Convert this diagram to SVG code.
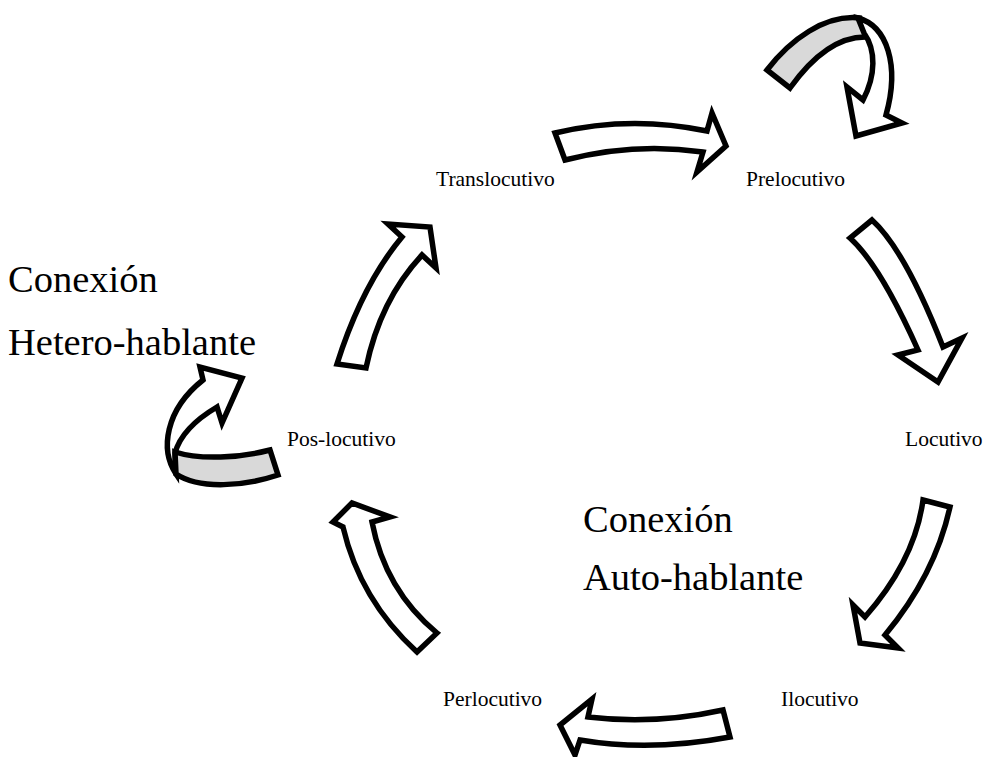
<svg xmlns="http://www.w3.org/2000/svg" width="986" height="757" viewBox="0 0 986 757">
  <style>
    .arrow { fill: #ffffff; stroke: #000000; stroke-width: 5.5; stroke-linejoin: miter; }
    .band { fill: #d9d9d9; stroke: #000000; stroke-width: 5.5; stroke-linejoin: miter; }
    .label { font-family: "Liberation Serif", "Times New Roman", serif; font-size: 21.5px; fill: #000000; }
    .title { font-family: "Liberation Serif", "Times New Roman", serif; font-size: 38.5px; fill: #000000; }
  </style>
  <rect width="986" height="757" fill="#ffffff"/>

  <!-- curved block arrows between the stages -->
  <g id="connectors">
    <path class="arrow" d="M 555,133 Q 630,115 707,131 L 712,113 L 726,146 L 697,172 L 703,152 Q 635,142 565,160 Z"/>
    <path class="arrow" d="M 872,220 Q 905,250 943,347 L 962,338 L 938,382 L 898,355 L 918,350 Q 880,265 850,238 Z"/>
    <path class="arrow" d="M 923,500 L 950,507 Q 935,575 885,635 L 898,648 L 860,643 L 853,605 L 865,617 Q 915,560 923,500 Z"/>
    <path class="arrow" d="M 723,710 L 730,737 Q 650,752 580,740 L 575,755 L 560,725 L 592,699 L 588,717 Q 655,725 723,710 Z"/>
    <path class="arrow" d="M 417,652 Q 360,600 343,527 L 333,522 L 352,503 L 390,517 L 372,522 Q 385,590 437,633 Z"/>
    <path class="arrow" d="M 337,364 Q 362,285 402,237 L 388,224 L 430,227 L 436,268 L 422,255 Q 380,300 366,368 Z"/>
    <!-- self loop on Prelocutivo -->
    <path class="band" d="M 767,70 C 790,40 825,14 860,18 L 867,37 C 835,36 810,60 790,88 Z"/>
    <path class="arrow" d="M 858,18 C 887,26 900,65 886,115 L 902,123 L 856,136 L 847,87 L 863,100 C 876,75 876,50 864,33 Z"/>
    <!-- self loop on Pos-locutivo -->
    <path class="arrow" d="M 176,474 C 160,450 165,410 203,380 L 200,367 L 242,378 L 222,423 L 217,407 C 195,420 180,435 175,453 Z"/>
    <path class="band" d="M 270,450 C 240,458 200,460 175,452 L 176,474 C 200,490 245,486 278,475 Z"/>
  </g>

  <g id="translocutivo"><text class="label" x="436" y="186">Translocutivo</text></g>
  <g id="prelocutivo"><text class="label" x="746" y="186">Prelocutivo</text></g>
  <g id="locutivo"><text class="label" x="905" y="446">Locutivo</text></g>
  <g id="ilocutivo"><text class="label" x="781" y="706">Ilocutivo</text></g>
  <g id="perlocutivo"><text class="label" x="443" y="706">Perlocutivo</text></g>
  <g id="pos-locutivo"><text class="label" x="287" y="446">Pos-locutivo</text></g>

  <g id="hetero-hablante">
    <text class="title" x="8" y="292">Conexión</text>
    <text class="title" x="8" y="355">Hetero-hablante</text>
  </g>
  <g id="auto-hablante">
    <text class="title" x="583" y="532">Conexión</text>
    <text class="title" x="583" y="590">Auto-hablante</text>
  </g>
</svg>
